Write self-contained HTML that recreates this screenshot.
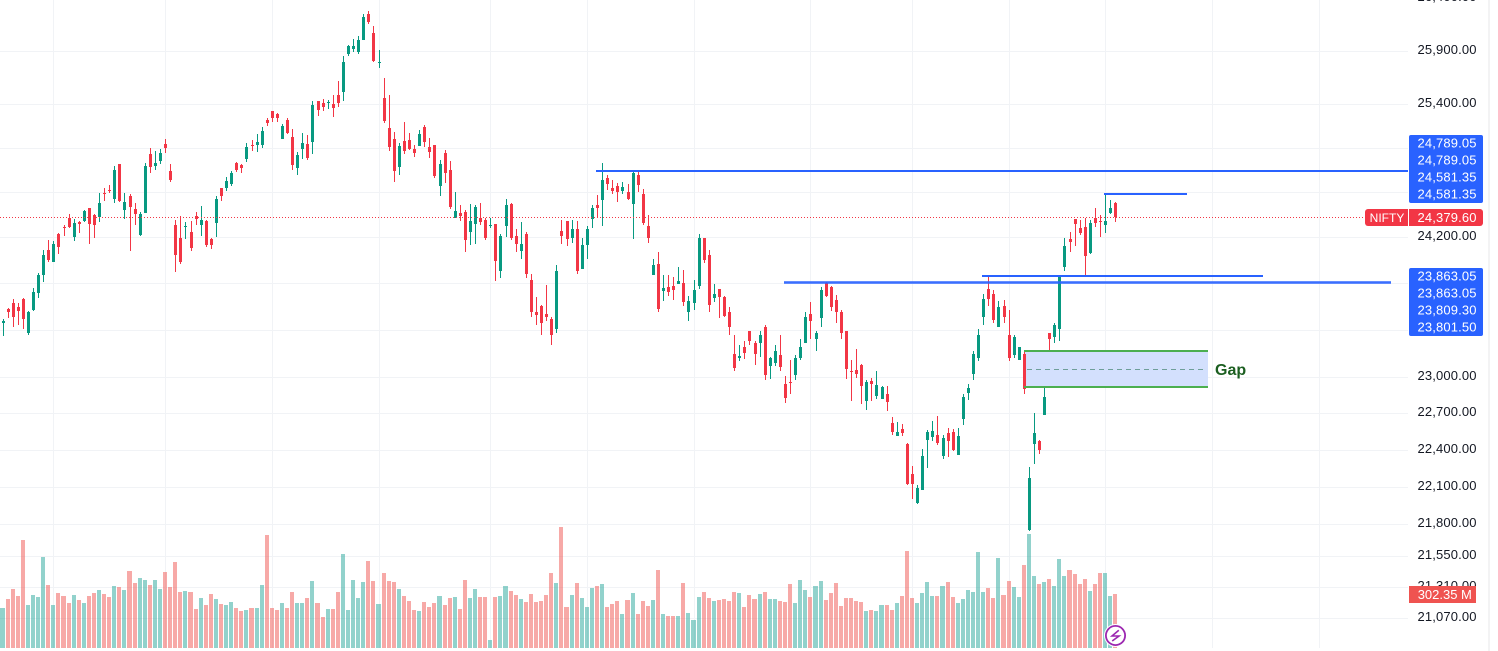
<!DOCTYPE html>
<html lang="en">
<head>
<meta charset="utf-8">
<title>NIFTY candlestick chart</title>
<style>
html,body{margin:0;padding:0;background:#fff;width:1498px;height:651px;overflow:hidden}
svg{display:block}
text{font-family:"Liberation Sans",sans-serif;font-size:13px;letter-spacing:.15px}
</style>
</head>
<body>
<svg id="chart" width="1498" height="651" viewBox="0 0 1498 651" xmlns="http://www.w3.org/2000/svg">
  <rect x="0" y="0" width="1498" height="651" fill="#ffffff"/>
  <rect x="1488" y="0" width="2" height="651" fill="#f3f3f4"/>
  <g id="grid" shape-rendering="crispEdges"></g>
  <g id="gapFill" shape-rendering="crispEdges"></g>
  <g id="volumes" shape-rendering="crispEdges"></g>
  <g id="candles" shape-rendering="crispEdges"></g>
  <g id="lastLine" shape-rendering="crispEdges"></g>
  <g id="levels" shape-rendering="crispEdges"></g>
  <g id="gapLines" shape-rendering="crispEdges"></g>
  <text x="1215" y="375" fill="#1b5e20" style="font-size:16px;font-weight:bold;letter-spacing:0">Gap</text>
  <g id="axisTicks"></g>

  <g>
    <rect x="1409" y="135" width="74" height="68" rx="2" fill="#2962ff"/>
    <text x="1476.7" y="147.5" text-anchor="end" fill="#fff">24,789.05</text>
    <text x="1476.7" y="164.5" text-anchor="end" fill="#fff">24,789.05</text>
    <text x="1476.7" y="181.5" text-anchor="end" fill="#fff">24,581.35</text>
    <text x="1476.7" y="198.5" text-anchor="end" fill="#fff">24,581.35</text>
  </g>
  <g>
    <rect x="1409" y="268" width="74" height="68" rx="2" fill="#2962ff"/>
    <text x="1476.7" y="280.5" text-anchor="end" fill="#fff">23,863.05</text>
    <text x="1476.7" y="297.5" text-anchor="end" fill="#fff">23,863.05</text>
    <text x="1476.7" y="314.5" text-anchor="end" fill="#fff">23,809.30</text>
    <text x="1476.7" y="331.5" text-anchor="end" fill="#fff">23,801.50</text>
  </g>

  <path d="M1368 209H1408V226H1368a3 3 0 0 1-3-3V212a3 3 0 0 1 3-3z" fill="#f23645"/>
  <text x="1387" y="222" text-anchor="middle" fill="#fff" style="font-size:12px;letter-spacing:0">NIFTY</text>
  <path d="M1409 209H1480a3 3 0 0 1 3 3V223a3 3 0 0 1-3 3H1409z" fill="#f23645"/>
  <text x="1476.7" y="222" text-anchor="end" fill="#fff">24,379.60</text>

  <rect x="1409" y="586" width="67" height="17" fill="#ef5350"/>
  <text x="1417.7" y="599" fill="#fff" style="letter-spacing:0">302.35 M</text>

  <g>
    <circle cx="1115.5" cy="635.5" r="11.5" fill="#ffffff"/>
    <circle cx="1115.5" cy="635.5" r="9.6" fill="#ffffff" stroke="#9c27b0" stroke-width="1.8"/>
    <path d="M1118.8 630.3L1112 636H1119L1112.2 641" fill="none" stroke="#9c27b0" stroke-width="1.6"/>
  </g>
</svg>
<script>
const opens=[23462,23576,23633,23593,23667,23377,23573,23718,23873,24090,23986,24230,24292,24372,24203,24336,24345,24461,24399,24381,24594,24621,24541,24858,24443,24567,24452,24221,24416,24948,24839,24885,25039,24794,24310,24194,24292,24247,24390,24310,24345,24186,24327,24639,24639,24676,24867,24848,24903,25030,25030,25030,25258,25339,25312,25085,25258,25103,24821,24994,25039,25058,25431,25413,25413,25403,25488,25516,25875,25922,25894,26006,26250,26072,25790,25460,25185,25085,24830,25067,25076,24994,25021,25194,25012,25030,24658,24958,24803,24372,24416,24425,24247,24319,24372,24354,24301,24319,23907,24301,24496,24212,24081,24230,23829,23548,23607,23539,23496,23411,24256,24345,24194,24274,23925,24133,24363,24487,24532,24730,24639,24658,24612,24603,24496,24758,24585,24301,23873,23968,23735,23769,23777,23794,23803,23556,23633,23777,24194,24047,23675,23752,23684,23556,23199,23165,23258,23386,23284,23292,23428,23096,23122,23190,22944,22961,23020,23165,23292,23539,23318,23505,23803,23769,23658,23548,23394,23054,23062,23105,22803,22969,22845,22820,22861,22616,22516,22573,22443,22200,21973,22070,22476,22508,22524,22346,22540,22549,22354,22654,22870,23028,23165,23513,23752,23709,23428,23607,23352,23190,23148,23199,21754,22443,22468,22687,23377,23343,23403,23942,24186,24363,24283,24292,24064,24372,24345,24310,24416,24505];
const highs=[23496,23584,23667,23633,23675,23565,23760,23890,24090,24177,24168,24239,24310,24407,24363,24345,24443,24461,24407,24594,24639,24667,24839,24858,24594,24585,24505,24425,24867,25003,24976,24994,25085,24858,24354,24390,24336,24345,24425,24479,24354,24194,24567,24639,24739,24794,24876,24858,25048,25076,25130,25194,25276,25339,25321,25221,25276,25176,24967,25139,25121,25431,25431,25450,25441,25488,25620,25856,25959,26014,26042,26250,26279,26138,25913,25648,25488,25148,25048,25239,25139,25030,25167,25212,25094,25030,24894,24985,24885,24603,24487,24443,24496,24487,24505,24372,24372,24319,24230,24541,24505,24274,24336,24247,23881,23684,23616,23786,23513,23960,24354,24345,24354,24345,24194,24301,24487,24576,24867,24758,24712,24685,24694,24676,24794,24785,24630,24399,24012,24072,23873,23873,23855,23942,23916,23692,23829,24230,24194,24090,23794,23752,23692,23599,23352,23275,23301,23394,23301,23394,23437,23173,23275,23352,23011,23148,23190,23326,23556,23641,23386,23769,23812,23777,23701,23573,23394,23148,23241,23113,22978,22994,23054,22928,22928,22670,22630,22613,22459,22265,22111,22403,22565,22638,22678,22524,22581,22573,22581,22861,22944,23224,23411,23709,23873,23743,23650,23658,23573,23360,23258,23224,22257,22703,22476,22928,23377,23462,23864,24194,24247,24363,24354,24372,24354,24461,24399,24585,24532,24514];
const lows=[23346,23505,23420,23445,23403,23360,23565,23675,23812,23986,23986,24055,24212,24283,24168,24239,24336,24142,24194,24336,24523,24594,24505,24514,24363,24081,24310,24212,24416,24776,24803,24858,24958,24694,23899,23968,24186,24081,24310,24212,24116,24099,24203,24523,24612,24658,24785,24776,24876,24976,24967,25003,25203,25239,25239,25085,25130,24803,24758,24903,24894,24948,25294,25339,25358,25285,25376,25431,25856,25894,25875,26006,26157,25799,25743,25230,24976,24694,24758,24948,24985,24921,25021,25012,24912,24730,24567,24685,24452,24372,24345,24072,24133,24142,24310,24177,24283,23820,23846,24203,24177,24072,24012,23846,23513,23445,23360,23471,23267,23369,24142,24125,24151,23881,23925,24012,24283,24372,24301,24621,24585,24514,24585,24532,24186,24603,24310,24151,23873,23548,23650,23692,23658,23794,23607,23471,23573,23752,23977,23556,23641,23505,23513,23352,23054,23139,23156,23275,23105,23173,22978,22986,23096,23054,22786,22861,22978,23148,23284,23326,23224,23428,23684,23565,23454,23326,22986,22803,22994,22778,22728,22803,22820,22820,22719,22524,22516,22516,22111,22005,21965,22070,22249,22468,22435,22322,22338,22387,22354,22605,22811,22978,23139,23437,23607,23462,23420,23454,23139,23165,23148,22861,21746,22281,22362,22687,23224,23284,23309,23907,24072,24125,24221,23855,24055,24292,24203,24239,24407,24336];
const closes=[23471,23556,23513,23565,23496,23548,23726,23873,24047,24003,24142,24116,24283,24292,24327,24319,24434,24319,24310,24505,24585,24612,24803,24523,24514,24470,24407,24407,24839,24830,24867,24958,25003,24712,24047,23986,24301,24107,24363,24354,24133,24133,24541,24567,24703,24776,24803,24821,25012,25021,25058,25158,25230,25276,25276,25203,25139,24848,24939,25048,24912,25394,25348,25376,25422,25367,25413,25799,25951,25951,26006,26222,26176,25809,25799,25248,25012,24794,25021,24976,24994,24958,25130,25058,24967,24748,24858,24776,24470,24434,24390,24177,24345,24470,24336,24194,24307,23994,24212,24487,24194,24142,24142,23881,23556,23530,23454,23513,23352,23907,24212,24186,24274,23907,24133,24274,24461,24461,24712,24676,24612,24603,24648,24541,24776,24667,24327,24194,23960,23582,23760,23726,23743,23820,23641,23650,23743,24194,24003,23616,23709,23684,23522,23428,23079,23182,23207,23309,23199,23352,23020,23165,23216,23088,22828,22953,23165,23258,23513,23479,23369,23743,23692,23599,23556,23377,23071,23045,23028,22928,22961,22944,22936,22919,22795,22549,22549,22540,22119,22119,22087,22346,22549,22557,22459,22500,22468,22395,22516,22836,22911,23199,23360,23667,23667,23488,23599,23513,23165,23343,23258,22903,22168,22540,22395,22836,23326,23445,23864,24125,24159,24319,24239,24038,24327,24327,24336,24345,24461,24379.6];
const volumes=[224,274,330,291,605,241,297,285,509,353,241,308,291,252,297,269,252,291,308,325,302,285,347,341,325,431,364,392,381,353,381,330,425,341,481,313,319,313,218,280,241,302,274,246,241,257,224,207,213,224,224,353,633,224,213,252,224,313,252,252,280,375,252,174,218,218,313,526,213,381,280,369,487,375,246,420,375,369,330,291,263,213,207,257,230,252,291,241,280,285,218,381,280,330,285,285,45,285,291,347,319,297,274,257,302,257,263,297,420,364,677,230,297,364,280,230,336,347,358,230,246,263,190,269,308,190,263,235,269,437,190,179,179,179,364,196,157,285,313,280,263,269,274,263,313,308,230,297,274,302,313,274,274,263,257,358,252,381,325,285,347,375,269,308,364,235,280,280,263,257,207,213,207,241,241,213,252,291,543,280,252,308,369,291,291,347,369,285,252,274,325,313,537,313,336,280,504,297,375,341,285,465,638,403,358,369,386,347,498,403,437,414,358,386,319,358,420,420,291,302.35];

const tickPrices=[26400,25900,25400,25000,24600,24200,23800,23400,23000,22700,22400,22100,21800,21550,21310,21070];
const tickLabels=["26,400.00","25,900.00","25,400.00","25,000.00","24,600.00","24,200.00","23,800.00","23,400.00","23,000.00","22,700.00","22,400.00","22,100.00","21,800.00","21,550.00","21,310.00","21,070.00"];
const monthStartBars=[10,32,53,74,96,115,136,159,179,198,217,238,259];

const levelPrices=[24789.05,24581.35,23863.05,23809.30,23801.50];
const levelStartBars=[116.7,216.7,192.7,153.7,153.7];
const levelEndBars=[276.5,233,248,273.2,273.2];
const lastPrice=24379.60;
const gapTopPrice=23223;
const gapBottomPrice=22918;
const gapStartBar=200.9;
const gapEndBar=237.1;

const NS="http://www.w3.org/2000/svg";
const UP="#089981",DOWN="#f23645",LEVEL="#2962ff",GAPLINE="#4caf50",GRID="#f1f3f6";
const X=function(bar){return 3.04+5.0811*bar;};
const COL=function(bar){return Math.floor(X(bar));};
const Y=function(price){return 237.5+2746*Math.log(24200/price);};
const VOLUME_BASE=648;
const VH=function(v){return v/5.6;};

function rect(parent,x,y,w,h,fill){
  const el=document.createElementNS(NS,"rect");
  el.setAttribute("x",x);
  el.setAttribute("y",y);
  el.setAttribute("width",w);
  el.setAttribute("height",h);
  el.setAttribute("fill",fill);
  parent.appendChild(el);
  return el;
}

const gridG=document.getElementById("grid");
tickPrices.forEach(function(p){
  const el=rect(gridG,0,Math.floor(Y(p)+0.3),1408,1,GRID);
  
  
});
monthStartBars.forEach(function(b){
  const el=rect(gridG,COL(b),0,1,648,GRID);
  
  
});

const gapTop=Y(gapTopPrice),gapBottom=Y(gapBottomPrice);
const gapFillEl=rect(document.getElementById("gapFill"),Math.round(X(gapStartBar)),Math.round(gapTop),Math.round(X(gapEndBar))-Math.round(X(gapStartBar)),Math.round(gapBottom)-Math.round(gapTop),"#d3e0fd");



const volG=document.getElementById("volumes");
const candleG=document.getElementById("candles");
opens.forEach(function(o,i){
  const c=closes[i];
  const isUp=c>=o;
  const col=COL(i);
  const left=i===0?0:COL(i-1)+3;
  const right=col+2;
  const vh=Math.round(VH(volumes[i]));
  const bar=rect(volG,left,VOLUME_BASE-vh,right-left,vh,isUp?"rgba(38,166,154,.5)":"rgba(239,83,80,.5)");
  
  

  const wt=Math.round(Y(highs[i])),wb=Math.round(Y(lows[i]));
  const wick=rect(candleG,col,wt,1,Math.max(1,wb-wt),isUp?UP:DOWN);
  
  

  const bt=Math.round(Y(Math.max(o,c))),bb=Math.round(Y(Math.min(o,c)));
  const body=rect(candleG,col-1,bt,3,Math.max(1,bb-bt),isUp?UP:DOWN);
  
  
});

const lastG=document.getElementById("lastLine");
const lastY=Math.floor(Y(lastPrice));
for(let x=0;x<1364;x+=3){
  const d=rect(lastG,x,lastY,1,1,DOWN);
  
  
}

const levelG=document.getElementById("levels");
levelPrices.forEach(function(p,i){
  const x1=Math.round(X(levelStartBars[i]));
  const x2=Math.min(1408,Math.round(X(levelEndBars[i])));
  const ln=rect(levelG,x1,Math.floor(Y(p))-1,x2-x1,2,LEVEL);
  
  
  if(i>=3){ln.setAttribute("fill-opacity","0.72");}
});

const gapG=document.getElementById("gapLines");
const gx1=Math.round(X(gapStartBar)),gx2=Math.round(X(gapEndBar));
const gapTopLine=rect(gapG,gx1,Math.round(gapTop)-1,gx2-gx1,2,GAPLINE);


const gapBottomLine=rect(gapG,gx1,Math.round(gapBottom)-1,gx2-gx1,2,GAPLINE);


const gapMidY=Math.round((gapTop+gapBottom)/2);
for(let x=gx1+3;x<gx2-4;x+=9){
  const dash=rect(gapG,x,gapMidY,5,1,"#6f9f9a");
  
  
}

const axisG=document.getElementById("axisTicks");
tickPrices.forEach(function(p,i){
  const t=document.createElementNS(NS,"text");
  
  
  t.setAttribute("x",1476.7);
  t.setAttribute("y",Math.floor(Y(p)+0.3)+3);
  t.setAttribute("text-anchor","end");
  t.setAttribute("fill","#131722");
  t.textContent=tickLabels[i];
  axisG.appendChild(t);
});
</script>
</body>
</html>
